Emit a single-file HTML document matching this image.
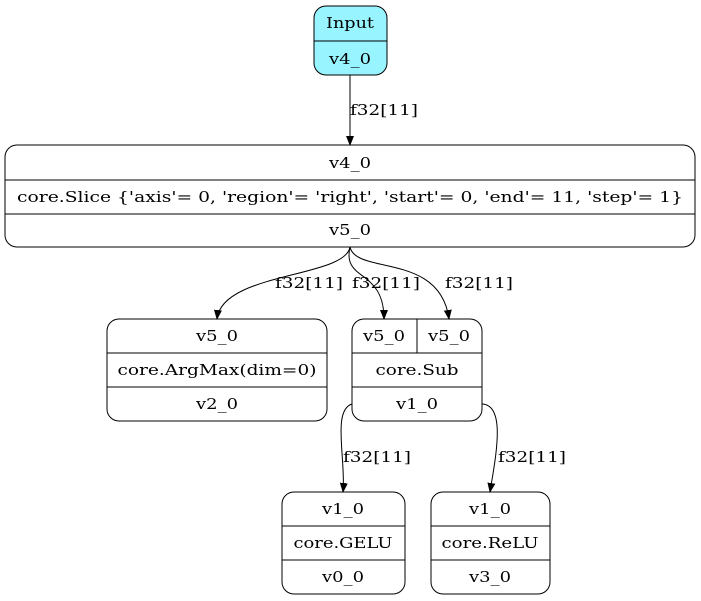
<!DOCTYPE html>
<html><head><meta charset="utf-8"><style>
html,body{margin:0;padding:0;background:#fff;}
svg{display:block;}
text{font-family:"DejaVu Serif","Liberation Serif",serif;font-size:15px;fill:#000;}
</style></head><body>
<svg width="701" height="601" viewBox="0 0 701 601" xmlns="http://www.w3.org/2000/svg">
<defs><marker id="a" markerWidth="10" markerHeight="10" refX="9" refY="5" orient="auto" markerUnits="userSpaceOnUse"><path d="M0,1 L10,5 L0,9 Z" fill="#000"/></marker></defs>
<g fill="none" stroke="#000" stroke-width="1">
<rect x="314" y="6" width="73" height="69" rx="12" fill="#98f5ff"/>
<line x1="314" y1="41" x2="387" y2="41"/>
<rect x="5" y="145" width="690" height="102" rx="12" fill="#fff"/>
<line x1="5" y1="180" x2="695" y2="180"/><line x1="5" y1="214" x2="695" y2="214"/>
<rect x="107" y="319" width="220" height="102" rx="12" fill="#fff"/>
<line x1="107" y1="353" x2="327" y2="353"/><line x1="107" y1="387" x2="327" y2="387"/>
<rect x="352" y="319" width="130" height="102" rx="12" fill="#fff"/>
<line x1="352" y1="353" x2="482" y2="353"/><line x1="352" y1="387" x2="482" y2="387"/>
<line x1="417" y1="319" x2="417" y2="353"/>
<rect x="282" y="492" width="123" height="102" rx="12" fill="#fff"/>
<line x1="282" y1="526" x2="405" y2="526"/><line x1="282" y1="560" x2="405" y2="560"/>
<rect x="431" y="492" width="119" height="102" rx="12" fill="#fff"/>
<line x1="431" y1="526" x2="550" y2="526"/><line x1="431" y1="560" x2="550" y2="560"/>
<path d="M350,75 L350,145" marker-end="url(#a)"/>
<path d="M350,247 C345,278 222,272 217,319" marker-end="url(#a)"/>
<path d="M350,247 C342,282 384,268 384,319" marker-end="url(#a)"/>
<path d="M350,247 C356,275 440,252 449,319" marker-end="url(#a)"/>
<path d="M352,404 C332,410 346,460 343,492" marker-end="url(#a)"/>
<path d="M482,404 C507,405 495,460 490,492" marker-end="url(#a)"/>
</g>
<g text-anchor="middle" lengthAdjust="spacingAndGlyphs">
<text x="350" y="28" textLength="48" lengthAdjust="spacingAndGlyphs">Input</text>
<text x="350" y="64" textLength="42" lengthAdjust="spacingAndGlyphs">v4_0</text>
<text x="350" y="168" textLength="42" lengthAdjust="spacingAndGlyphs">v4_0</text>
<text x="350" y="202" textLength="666" lengthAdjust="spacingAndGlyphs">core.Slice {'axis'= 0, 'region'= 'right', 'start'= 0, 'end'= 11, 'step'= 1}</text>
<text x="350" y="235" textLength="42" lengthAdjust="spacingAndGlyphs">v5_0</text>
<text x="217" y="341" textLength="42" lengthAdjust="spacingAndGlyphs">v5_0</text>
<text x="217" y="375" textLength="199" lengthAdjust="spacingAndGlyphs">core.ArgMax(dim=0)</text>
<text x="217" y="409" textLength="42" lengthAdjust="spacingAndGlyphs">v2_0</text>
<text x="384" y="341" textLength="42" lengthAdjust="spacingAndGlyphs">v5_0</text>
<text x="449" y="341" textLength="42" lengthAdjust="spacingAndGlyphs">v5_0</text>
<text x="417" y="375" textLength="83" lengthAdjust="spacingAndGlyphs">core.Sub</text>
<text x="417" y="409" textLength="42" lengthAdjust="spacingAndGlyphs">v1_0</text>
<text x="343" y="514" textLength="42" lengthAdjust="spacingAndGlyphs">v1_0</text>
<text x="343" y="548" textLength="99" lengthAdjust="spacingAndGlyphs">core.GELU</text>
<text x="343" y="582" textLength="42" lengthAdjust="spacingAndGlyphs">v0_0</text>
<text x="490" y="514" textLength="42" lengthAdjust="spacingAndGlyphs">v1_0</text>
<text x="490" y="548" textLength="97" lengthAdjust="spacingAndGlyphs">core.ReLU</text>
<text x="490" y="582" textLength="42" lengthAdjust="spacingAndGlyphs">v3_0</text>
</g>
<text x="350" y="115" textLength="68" lengthAdjust="spacingAndGlyphs">f32[11]</text>
<text x="275" y="288" textLength="68" lengthAdjust="spacingAndGlyphs">f32[11]</text>
<text x="352" y="288" textLength="68" lengthAdjust="spacingAndGlyphs">f32[11]</text>
<text x="445" y="288" textLength="68" lengthAdjust="spacingAndGlyphs">f32[11]</text>
<text x="343" y="462" textLength="68" lengthAdjust="spacingAndGlyphs">f32[11]</text>
<text x="498" y="462" textLength="68" lengthAdjust="spacingAndGlyphs">f32[11]</text>
</svg>
</body></html>
